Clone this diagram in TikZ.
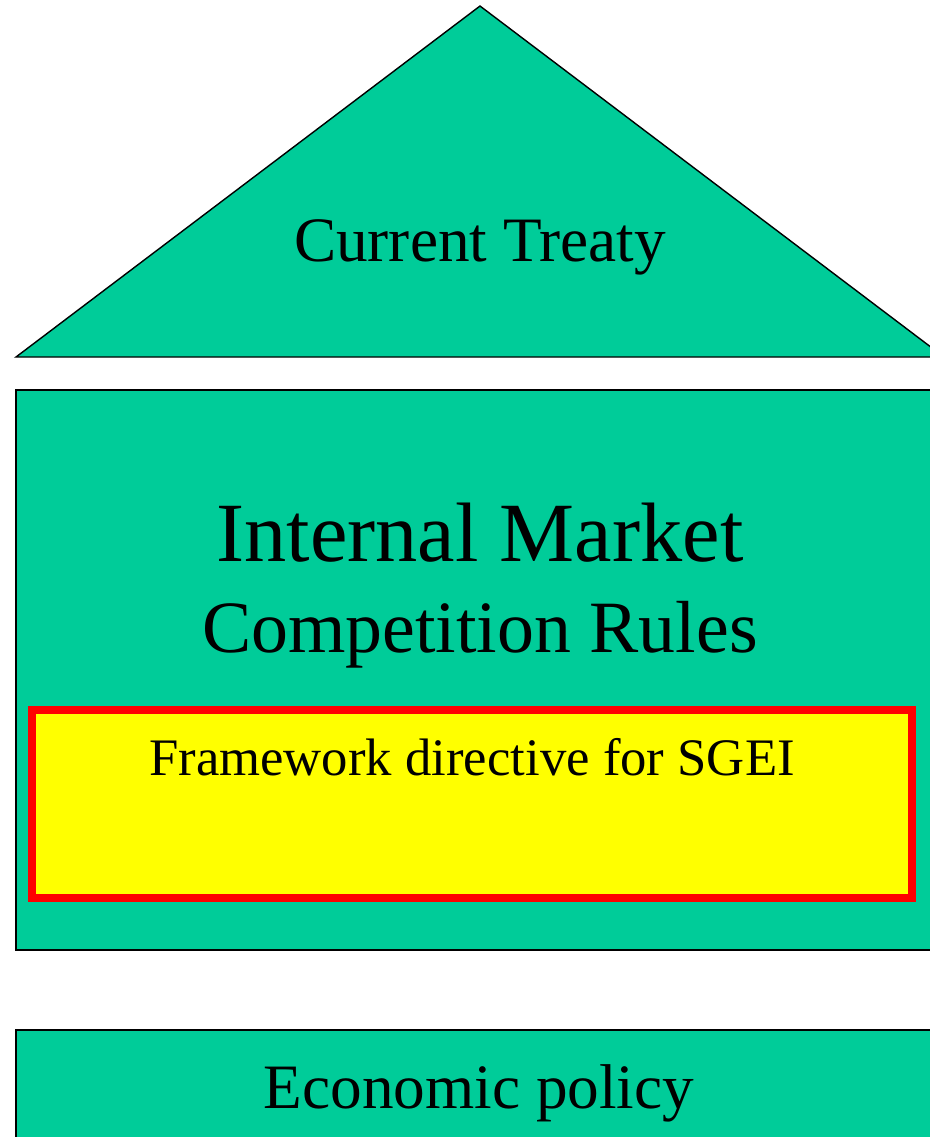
\documentclass[tikz,border=0pt]{standalone}
\usepackage{fontspec}
\setmainfont{Liberation Serif}
\usepackage{xcolor}
\usetikzlibrary{positioning}

\definecolor{housegreen}{HTML}{00CC99}
\definecolor{directiveyellow}{HTML}{FFFF00}
\definecolor{directivered}{HTML}{FF0000}

\begin{document}
\begin{tikzpicture}[
    x=0.02cm, y=-0.02cm,
    block/.style={draw=black, line width=0.8pt, fill=housegreen},
    directive/.style={draw=directivered, line width=0.16cm, fill=directiveyellow},
    label/.style={anchor=base, inner sep=0pt, text=black}
]
\useasboundingbox (0,0) rectangle (930,1137);
\clip (0,0) rectangle (930,1137);

% roof
\draw [block] (16,357) -- (480,6) -- (944,357) -- cycle;
% walls
\draw [block] (16,390) rectangle (960,950);
\draw [directive] (32,710) rectangle (912,898);
% foundation
\draw [block] (16,1030) rectangle (960,1180);

\node (treaty) [label, font=\fontsize{36}{40}\selectfont] at (480,261) {Current Treaty};
\node (market) [label, font=\fontsize{48}{54}\selectfont] at (480,561) {Internal Market};
\node (rules) [label, font=\fontsize{42}{48}\selectfont] at (480,652) {Competition Rules};
\node (sgei) [label, font=\fontsize{30}{34}\selectfont] at (472,775) {Framework directive for SGEI};
\node (policy) [label, font=\fontsize{36}{40}\selectfont] at (479,1108) {Economic policy};

\end{tikzpicture}
\end{document}
